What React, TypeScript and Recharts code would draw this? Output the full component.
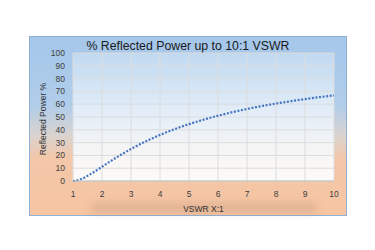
import React from 'react';
import { LineChart, Line, XAxis, YAxis, CartesianGrid } from 'recharts';

const vswr = [1, 1.25, 1.5, 1.75, 2, 2.5, 3, 3.5, 4, 4.5, 5, 5.5, 6, 6.5, 7, 7.5, 8, 8.5, 9, 9.5, 10];
const reflectedPct = [0, 1.2, 4, 7.4, 11.1, 18.4, 25, 30.9, 36, 40.5, 44.4, 47.9, 51, 53.8, 56.3, 58.5, 60.5, 62.3, 64, 65.5, 66.9];
const xTicks = [1, 2, 3, 4, 5, 6, 7, 8, 9, 10];
const yTicks = [0, 10, 20, 30, 40, 50, 60, 70, 80, 90, 100];
const title = '% Reflected Power up to 10:1 VSWR';
const xLabel = 'VSWR X:1';
const yLabel = 'Reflected Power %';

const data = vswr.map((v, i) => ({ x: v, y: reflectedPct[i] }));

const font = "'Liberation Sans', Arial, sans-serif";

export default function App() {
  return (
    <div style={{ position: 'absolute', left: 0, top: 0, width: 375, height: 250, background: '#ffffff', fontFamily: font }}>
      <div
        style={{
          position: 'absolute',
          left: 29,
          top: 36,
          width: 316,
          height: 178,
          border: '1px solid #8fb0d2',
          background: 'linear-gradient(to bottom, #a5c7ea 0%, #b0cdea 38%, #d9d3d0 55%, #f3c7a9 68%, #f6c5a3 100%)',
        }}
      />
      <div
        style={{
          position: 'absolute',
          left: 92,
          top: 204,
          width: 224,
          height: 8,
          background: 'rgba(160,120,100,0.3)',
          filter: 'blur(4px)',
        }}
      />
      <div
        style={{
          position: 'absolute',
          left: 29,
          top: 39,
          width: 318,
          textAlign: 'center',
          fontSize: 12.3,
          color: '#1a1a1a',
          fontFamily: font,
        }}
      >
        {title}
      </div>
      <div
        style={{
          position: 'absolute',
          left: 43,
          top: 119,
          transform: 'translate(-50%, -50%) rotate(-90deg)',
          whiteSpace: 'nowrap',
          fontSize: 8.5,
          color: '#333333',
          fontFamily: font,
        }}
      >
        {yLabel}
      </div>
      <div style={{ position: 'absolute', left: 0, top: 0 }}>
        <LineChart width={375} height={250} data={data} margin={{ top: 53, right: 41, bottom: 0, left: 0 }}>
          <defs>
            <linearGradient id="plotGrad" x1="0" y1="0" x2="0" y2="1">
              <stop offset="0%" stopColor="#c0d9f1" />
              <stop offset="45%" stopColor="#e2edf8" />
              <stop offset="80%" stopColor="#f8f6f5" />
              <stop offset="100%" stopColor="#fdfbfa" />
            </linearGradient>
          </defs>
          <CartesianGrid stroke="#dcdcdc" strokeWidth={1} fill="url(#plotGrad)" fillOpacity={1} />
          <XAxis
            dataKey="x"
            type="number"
            domain={[1, 10]}
            ticks={xTicks}
            height={69}
            axisLine={{ stroke: '#bfbfbf' }}
            tickLine={false}
            tick={{ fontSize: 8.5, fill: '#404040', fontFamily: font }}
            tickMargin={4}
            label={{ value: xLabel, position: 'insideBottom', offset: 38, fontSize: 8.5, fill: '#333333', fontFamily: font }}
          />
          <YAxis
            type="number"
            domain={[0, 100]}
            ticks={yTicks}
            width={73}
            axisLine={false}
            tickLine={false}
            tick={{ fontSize: 8.5, fill: '#404040', fontFamily: font }}
            interval={0}
          />
          <Line
            type="monotone"
            dataKey="y"
            stroke="#4472c4"
            strokeWidth={2.2}
            strokeDasharray="2 1.6"
            dot={false}
            isAnimationActive={false}
          />
        </LineChart>
      </div>
    </div>
  );
}
